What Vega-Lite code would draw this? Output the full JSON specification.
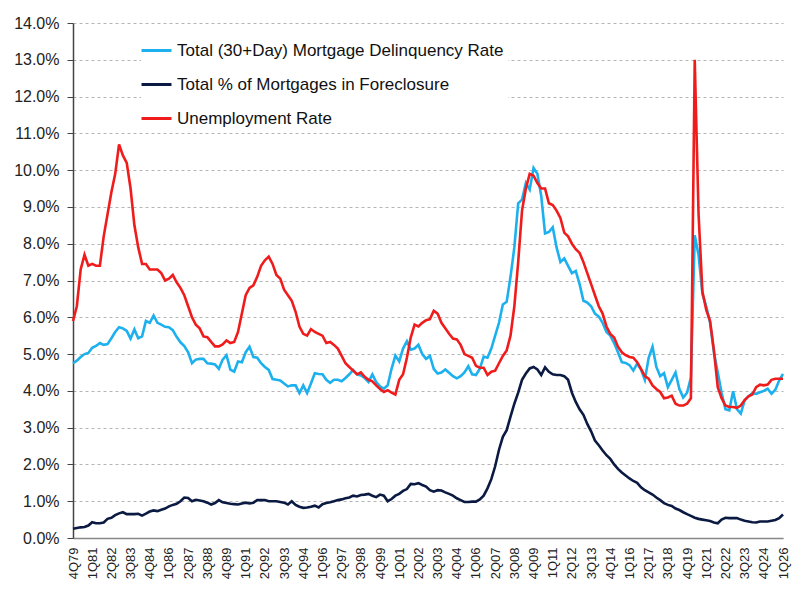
{
  "$schema": "https://vega.github.io/schema/vega-lite/v6.json",
  "autosize": {"type": "none"},
  "padding": {"left": 73, "top": 23, "right": 17, "bottom": 54},
  "width": 710,
  "height": 515,
  "background": "white",
  "config": {"view": {"stroke": null}, "font": "Liberation Sans"},
  "data": {"values": [
    {"q":"4Q79","d":4.75,"f":0.25,"u":5.9},
    {"q":"1Q80","d":4.82,"f":0.27,"u":6.3},
    {"q":"2Q80","d":4.92,"f":0.29,"u":7.3},
    {"q":"3Q80","d":5.0,"f":0.3,"u":7.7},
    {"q":"4Q80","d":5.03,"f":0.34,"u":7.4},
    {"q":"1Q81","d":5.17,"f":0.43,"u":7.45},
    {"q":"2Q81","d":5.22,"f":0.4,"u":7.4},
    {"q":"3Q81","d":5.3,"f":0.4,"u":7.4},
    {"q":"4Q81","d":5.25,"f":0.42,"u":8.2},
    {"q":"1Q82","d":5.27,"f":0.52,"u":8.8},
    {"q":"2Q82","d":5.43,"f":0.55,"u":9.4},
    {"q":"3Q82","d":5.6,"f":0.62,"u":9.9},
    {"q":"4Q82","d":5.73,"f":0.67,"u":10.7},
    {"q":"1Q83","d":5.7,"f":0.7,"u":10.4},
    {"q":"2Q83","d":5.63,"f":0.65,"u":10.2},
    {"q":"3Q83","d":5.42,"f":0.65,"u":9.5},
    {"q":"4Q83","d":5.67,"f":0.65,"u":8.5},
    {"q":"1Q84","d":5.43,"f":0.66,"u":7.9},
    {"q":"2Q84","d":5.48,"f":0.61,"u":7.45},
    {"q":"3Q84","d":5.9,"f":0.66,"u":7.45},
    {"q":"4Q84","d":5.85,"f":0.72,"u":7.3},
    {"q":"1Q85","d":6.05,"f":0.75,"u":7.3},
    {"q":"2Q85","d":5.85,"f":0.73,"u":7.3},
    {"q":"3Q85","d":5.8,"f":0.77,"u":7.2},
    {"q":"4Q85","d":5.74,"f":0.8,"u":7.0},
    {"q":"1Q86","d":5.73,"f":0.86,"u":7.05},
    {"q":"2Q86","d":5.65,"f":0.9,"u":7.15},
    {"q":"3Q86","d":5.47,"f":0.93,"u":6.95},
    {"q":"4Q86","d":5.32,"f":1.0,"u":6.8},
    {"q":"1Q87","d":5.22,"f":1.1,"u":6.6},
    {"q":"2Q87","d":5.05,"f":1.09,"u":6.3},
    {"q":"3Q87","d":4.75,"f":1.0,"u":6.0},
    {"q":"4Q87","d":4.85,"f":1.04,"u":5.8},
    {"q":"1Q88","d":4.87,"f":1.02,"u":5.7},
    {"q":"2Q88","d":4.87,"f":1.0,"u":5.48},
    {"q":"3Q88","d":4.75,"f":0.96,"u":5.46},
    {"q":"4Q88","d":4.74,"f":0.91,"u":5.33},
    {"q":"1Q89","d":4.72,"f":0.95,"u":5.21},
    {"q":"2Q89","d":4.6,"f":1.03,"u":5.21},
    {"q":"3Q89","d":4.85,"f":0.97,"u":5.26},
    {"q":"4Q89","d":4.97,"f":0.95,"u":5.37},
    {"q":"1Q90","d":4.58,"f":0.93,"u":5.3},
    {"q":"2Q90","d":4.52,"f":0.92,"u":5.33},
    {"q":"3Q90","d":4.8,"f":0.91,"u":5.6},
    {"q":"4Q90","d":4.78,"f":0.94,"u":6.1},
    {"q":"1Q91","d":5.05,"f":0.96,"u":6.6},
    {"q":"2Q91","d":5.2,"f":0.94,"u":6.8},
    {"q":"3Q91","d":4.92,"f":0.96,"u":6.87},
    {"q":"4Q91","d":4.9,"f":1.03,"u":7.1},
    {"q":"1Q92","d":4.75,"f":1.03,"u":7.4},
    {"q":"2Q92","d":4.65,"f":1.03,"u":7.55},
    {"q":"3Q92","d":4.57,"f":1.0,"u":7.65},
    {"q":"4Q92","d":4.32,"f":1.0,"u":7.45},
    {"q":"1Q93","d":4.3,"f":1.0,"u":7.15},
    {"q":"2Q93","d":4.28,"f":0.98,"u":7.05},
    {"q":"3Q93","d":4.2,"f":0.96,"u":6.75},
    {"q":"4Q93","d":4.12,"f":0.91,"u":6.6},
    {"q":"1Q94","d":4.15,"f":1.0,"u":6.45},
    {"q":"2Q94","d":4.15,"f":0.9,"u":6.15},
    {"q":"3Q94","d":3.94,"f":0.85,"u":5.75},
    {"q":"4Q94","d":4.15,"f":0.82,"u":5.55},
    {"q":"1Q95","d":3.94,"f":0.83,"u":5.5},
    {"q":"2Q95","d":4.2,"f":0.85,"u":5.68},
    {"q":"3Q95","d":4.48,"f":0.88,"u":5.6},
    {"q":"4Q95","d":4.46,"f":0.83,"u":5.55},
    {"q":"1Q96","d":4.45,"f":0.92,"u":5.5},
    {"q":"2Q96","d":4.3,"f":0.95,"u":5.3},
    {"q":"3Q96","d":4.22,"f":0.97,"u":5.33},
    {"q":"4Q96","d":4.3,"f":1.0,"u":5.25},
    {"q":"1Q97","d":4.3,"f":1.03,"u":5.15},
    {"q":"2Q97","d":4.26,"f":1.05,"u":4.95},
    {"q":"3Q97","d":4.35,"f":1.08,"u":4.75},
    {"q":"4Q97","d":4.45,"f":1.1,"u":4.65},
    {"q":"1Q98","d":4.57,"f":1.15,"u":4.55},
    {"q":"2Q98","d":4.45,"f":1.13,"u":4.45},
    {"q":"3Q98","d":4.42,"f":1.17,"u":4.5},
    {"q":"4Q98","d":4.35,"f":1.18,"u":4.38},
    {"q":"1Q99","d":4.24,"f":1.2,"u":4.3},
    {"q":"2Q99","d":4.45,"f":1.15,"u":4.26},
    {"q":"3Q99","d":4.24,"f":1.11,"u":4.15},
    {"q":"4Q99","d":4.12,"f":1.18,"u":4.05},
    {"q":"1Q00","d":4.06,"f":1.15,"u":3.97},
    {"q":"2Q00","d":4.15,"f":1.0,"u":4.02},
    {"q":"3Q00","d":4.6,"f":1.06,"u":3.95},
    {"q":"4Q00","d":4.96,"f":1.15,"u":3.9},
    {"q":"1Q01","d":4.8,"f":1.2,"u":4.3},
    {"q":"2Q01","d":5.15,"f":1.28,"u":4.45},
    {"q":"3Q01","d":5.35,"f":1.33,"u":4.9},
    {"q":"4Q01","d":5.12,"f":1.47,"u":5.45},
    {"q":"1Q02","d":5.15,"f":1.46,"u":5.8},
    {"q":"2Q02","d":5.25,"f":1.49,"u":5.75},
    {"q":"3Q02","d":5.0,"f":1.44,"u":5.85},
    {"q":"4Q02","d":4.87,"f":1.4,"u":5.92},
    {"q":"1Q03","d":4.95,"f":1.3,"u":5.95},
    {"q":"2Q03","d":4.6,"f":1.26,"u":6.18},
    {"q":"3Q03","d":4.47,"f":1.3,"u":6.1},
    {"q":"4Q03","d":4.5,"f":1.29,"u":5.85},
    {"q":"1Q04","d":4.58,"f":1.24,"u":5.7},
    {"q":"2Q04","d":4.49,"f":1.2,"u":5.55},
    {"q":"3Q04","d":4.4,"f":1.15,"u":5.42},
    {"q":"4Q04","d":4.34,"f":1.08,"u":5.4},
    {"q":"1Q05","d":4.4,"f":1.03,"u":5.25},
    {"q":"2Q05","d":4.5,"f":0.98,"u":5.0},
    {"q":"3Q05","d":4.67,"f":0.98,"u":4.95},
    {"q":"4Q05","d":4.45,"f":0.99,"u":4.9},
    {"q":"1Q06","d":4.43,"f":0.99,"u":4.68},
    {"q":"2Q06","d":4.6,"f":1.05,"u":4.63},
    {"q":"3Q06","d":4.93,"f":1.15,"u":4.63},
    {"q":"4Q06","d":4.9,"f":1.35,"u":4.43},
    {"q":"1Q07","d":5.15,"f":1.6,"u":4.52},
    {"q":"2Q07","d":5.5,"f":1.95,"u":4.55},
    {"q":"3Q07","d":5.85,"f":2.4,"u":4.75},
    {"q":"4Q07","d":6.35,"f":2.75,"u":4.95},
    {"q":"1Q08","d":6.42,"f":2.93,"u":5.1},
    {"q":"2Q08","d":7.1,"f":3.3,"u":5.5},
    {"q":"3Q08","d":7.9,"f":3.65,"u":6.3},
    {"q":"4Q08","d":9.1,"f":3.95,"u":7.5},
    {"q":"1Q09","d":9.2,"f":4.3,"u":8.9},
    {"q":"2Q09","d":9.65,"f":4.47,"u":9.5},
    {"q":"3Q09","d":9.47,"f":4.61,"u":9.9},
    {"q":"4Q09","d":10.06,"f":4.65,"u":9.85},
    {"q":"1Q10","d":9.9,"f":4.58,"u":9.65},
    {"q":"2Q10","d":9.3,"f":4.43,"u":9.5},
    {"q":"3Q10","d":8.28,"f":4.64,"u":9.5},
    {"q":"4Q10","d":8.32,"f":4.52,"u":9.1},
    {"q":"1Q11","d":8.45,"f":4.45,"u":9.05},
    {"q":"2Q11","d":7.9,"f":4.43,"u":8.9},
    {"q":"3Q11","d":7.5,"f":4.43,"u":8.7},
    {"q":"4Q11","d":7.6,"f":4.4,"u":8.3},
    {"q":"1Q12","d":7.4,"f":4.3,"u":8.2},
    {"q":"2Q12","d":7.2,"f":3.95,"u":8.0},
    {"q":"3Q12","d":7.26,"f":3.7,"u":7.85},
    {"q":"4Q12","d":6.9,"f":3.5,"u":7.75},
    {"q":"1Q13","d":6.45,"f":3.35,"u":7.5},
    {"q":"2Q13","d":6.4,"f":3.1,"u":7.2},
    {"q":"3Q13","d":6.3,"f":2.9,"u":6.9},
    {"q":"4Q13","d":6.1,"f":2.65,"u":6.6},
    {"q":"1Q14","d":6.02,"f":2.52,"u":6.3},
    {"q":"2Q14","d":5.85,"f":2.38,"u":6.1},
    {"q":"3Q14","d":5.6,"f":2.25,"u":5.75},
    {"q":"4Q14","d":5.5,"f":2.15,"u":5.55},
    {"q":"1Q15","d":5.3,"f":2.0,"u":5.45},
    {"q":"2Q15","d":5.05,"f":1.88,"u":5.2},
    {"q":"3Q15","d":4.78,"f":1.78,"u":5.05},
    {"q":"4Q15","d":4.76,"f":1.7,"u":4.97},
    {"q":"1Q16","d":4.7,"f":1.62,"u":4.92},
    {"q":"2Q16","d":4.55,"f":1.55,"u":4.9},
    {"q":"3Q16","d":4.74,"f":1.5,"u":4.78},
    {"q":"4Q16","d":4.58,"f":1.38,"u":4.6},
    {"q":"1Q17","d":4.3,"f":1.3,"u":4.4},
    {"q":"2Q17","d":4.9,"f":1.24,"u":4.33},
    {"q":"3Q17","d":5.2,"f":1.18,"u":4.15},
    {"q":"4Q17","d":4.65,"f":1.1,"u":4.05},
    {"q":"1Q18","d":4.4,"f":1.03,"u":3.97},
    {"q":"2Q18","d":4.48,"f":0.95,"u":3.8},
    {"q":"3Q18","d":4.1,"f":0.9,"u":3.82},
    {"q":"4Q18","d":4.3,"f":0.87,"u":3.87},
    {"q":"1Q19","d":4.5,"f":0.8,"u":3.65},
    {"q":"2Q19","d":4.05,"f":0.76,"u":3.6},
    {"q":"3Q19","d":3.82,"f":0.7,"u":3.6},
    {"q":"4Q19","d":3.95,"f":0.65,"u":3.65},
    {"q":"1Q20","d":4.36,"f":0.6,"u":3.8},
    {"q":"2Q20","d":8.23,"f":0.55,"u":13.0},
    {"q":"3Q20","d":7.69,"f":0.52,"u":8.8},
    {"q":"4Q20","d":6.64,"f":0.5,"u":6.7},
    {"q":"1Q21","d":6.3,"f":0.48,"u":6.2},
    {"q":"2Q21","d":5.85,"f":0.46,"u":5.9},
    {"q":"3Q21","d":5.05,"f":0.42,"u":5.1},
    {"q":"4Q21","d":4.5,"f":0.4,"u":4.1},
    {"q":"1Q22","d":3.95,"f":0.5,"u":3.8},
    {"q":"2Q22","d":3.5,"f":0.55,"u":3.6},
    {"q":"3Q22","d":3.47,"f":0.54,"u":3.56},
    {"q":"4Q22","d":3.99,"f":0.54,"u":3.56},
    {"q":"1Q23","d":3.5,"f":0.54,"u":3.54},
    {"q":"2Q23","d":3.38,"f":0.5,"u":3.6},
    {"q":"3Q23","d":3.74,"f":0.47,"u":3.75},
    {"q":"4Q23","d":3.85,"f":0.45,"u":3.85},
    {"q":"1Q24","d":3.94,"f":0.43,"u":3.9},
    {"q":"2Q24","d":3.92,"f":0.42,"u":4.1},
    {"q":"3Q24","d":3.96,"f":0.45,"u":4.17},
    {"q":"4Q24","d":4.0,"f":0.45,"u":4.15},
    {"q":"1Q25","d":4.06,"f":0.45,"u":4.17},
    {"q":"2Q25","d":3.92,"f":0.47,"u":4.3},
    {"q":"3Q25","d":4.03,"f":0.49,"u":4.33},
    {"q":"4Q25","d":4.28,"f":0.54,"u":4.33},
    {"q":"1Q26","d":4.46,"f":0.64,"u":4.33}
  ]},
  "transform": [{"fold": ["d", "f", "u"], "as": ["series", "value"]}],
  "mark": {"type": "line", "strokeWidth": 2.6, "interpolate": "linear"},
  "encoding": {
    "x": {
      "field": "q", "type": "ordinal", "sort": null,
      "scale": {"type": "point", "padding": 0},
      "axis": {
        "title": null,
        "values": ["4Q79","1Q81","2Q82","3Q83","4Q84","1Q86","2Q87","3Q88","4Q89","1Q91","2Q92","3Q93","4Q94","1Q96","2Q97","3Q98","4Q99","1Q01","2Q02","3Q03","4Q04","1Q06","2Q07","3Q08","4Q09","1Q11","2Q12","3Q13","4Q14","1Q16","2Q17","3Q18","4Q19","1Q21","2Q22","3Q23","4Q24","1Q26"],
        "labelAngle": 270,
        "labelFontSize": 13,
        "labelFont": "Liberation Sans",
        "labelColor": "#222",
        "labelPadding": 9,
        "ticks": false,
        "grid": false,
        "domainColor": "#888",
        "domainWidth": 1.5,
        "labelOverlap": false
      }
    },
    "y": {
      "field": "value", "type": "quantitative",
      "scale": {"domain": [0, 14], "nice": false, "zero": true},
      "axis": {
        "title": null,
        "values": [0,1,2,3,4,5,6,7,8,9,10,11,12,13,14],
        "labelExpr": "format(datum.value, '.1f') + '%'",
        "labelFontSize": 16,
        "labelFont": "Liberation Sans",
        "labelColor": "#222",
        "labelPadding": 8,
        "tickSize": 6,
        "tickColor": "#444",
        "domainColor": "#444",
        "domainWidth": 1.5,
        "grid": true,
        "gridDash": [3, 3],
        "gridColor": "#b5b5b5",
        "gridWidth": 1
      }
    },
    "color": {
      "field": "series", "type": "nominal",
      "scale": {"domain": ["d", "f", "u"], "range": ["#1CB0EE", "#0B1A42", "#F01C1C"]},
      "legend": {
        "title": null,
        "orient": "none",
        "legendX": 68,
        "legendY": 12,
        "labelExpr": "datum.label == 'd' ? 'Total (30+Day) Mortgage Delinquency Rate' : datum.label == 'f' ? 'Total % of Mortgages in Foreclosure' : 'Unemployment Rate'",
        "symbolType": "M-1.5,0H1.5",
        "symbolSize": 400,
        "symbolStrokeWidth": 3,
        "labelFontSize": 17,
        "labelFont": "Liberation Sans",
        "labelColor": "#111",
        "labelOffset": 9,
        "labelLimit": 0,
        "rowPadding": 14,
        "padding": 4,
        "fillColor": "white"
      }
    }
  }
}
